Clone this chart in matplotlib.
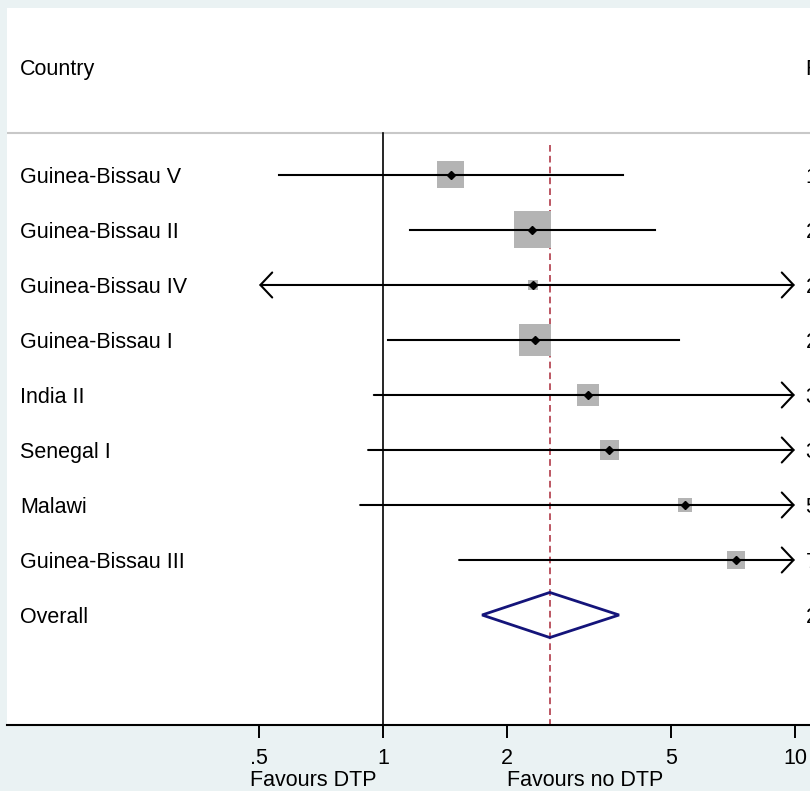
import numpy as np
from matplotlib import pyplot as plt
from matplotlib.patches import Polygon
import matplotlib.transforms as mtransforms

plt.rcParams['font.family'] = ['Liberation Sans', 'DejaVu Sans']

# study estimates (risk ratios)
studies = ["Guinea-Bissau V", "Guinea-Bissau II", "Guinea-Bissau IV", "Guinea-Bissau I",
           "India II", "Senegal I", "Malawi", "Guinea-Bissau III"]
es = [1.46, 2.30, 2.31, 2.34, 3.14, 3.54, 5.41, 7.19]
ci_lo = [0.56, 1.16, 0.21, 1.03, 0.95, 0.92, 0.88, 1.53]
ci_hi = [3.83, 4.57, 25.6, 5.23, 10.4, 13.6, 33.2, 33.9]
weights = [15.9, 29.8, 2.2, 22.3, 10.5, 7.9, 4.3, 7.1]

overall_label = "Overall"
overall_es = 2.54
overall_lo = 1.74
overall_hi = 3.74

xticks = [0.5, 1, 2, 5, 10]
xticklabels = [".5", "1", "2", "5", "10"]
favours = ["Favours DTP", "Favours no DTP"]

bg = '#EAF2F3'
fs = 15.5
xmin_clip, xmax_clip = 0.5, 10
toff = 0.04  # small downward nudge so text sits on the row like Stata does

fig = plt.figure(figsize=(8.1, 7.91), dpi=100, facecolor=bg)
ax = fig.add_axes([7/810, 66/791, 803/810, 717/791])
ax.set_facecolor('white')
ax.set_xscale('log')
ax.set_xlim(10**(-376/412), 10**(427/412))
ax.set_ylim(10.0, -3.036)

for s in ['top', 'right', 'left']:
    ax.spines[s].set_visible(False)
ax.spines['bottom'].set_linewidth(1.5)
ax.set_yticks([])
ax.xaxis.set_minor_locator(plt.NullLocator())
ax.set_xticks(xticks)
ax.set_xticklabels(xticklabels)
ax.tick_params(axis='x', length=9.4, width=1.4, pad=7.5, labelsize=fs)

rows = np.arange(len(studies))
ytrans = mtransforms.blended_transform_factory(ax.transAxes, ax.transData)
xtrans = mtransforms.blended_transform_factory(ax.transData, ax.transAxes)

# header
ax.text(0.0162, -1.964 + toff, "Country", transform=ytrans, va='center', fontsize=fs)
ax.text(0.995, -1.964 + toff, "RR (95% CI)", transform=ytrans, va='center', fontsize=fs, clip_on=False)
ax.axhline(-0.764, color='#C8C8C8', lw=1.5)

# null line and overall line
ax.plot([1, 1], [-0.764, 10], color='black', lw=1.2, clip_on=False)
ax.plot([overall_es, overall_es], [-0.545, 10], color='#B03A48', lw=1.2, ls=(0, (4, 2.5)))

# weight boxes
side_px = 37 * np.sqrt(np.array(weights) / max(weights))
ax.scatter(es, rows, s=(side_px * 0.72)**2, marker='s', color='#B4B4B4', linewidths=0, zorder=2)

# confidence intervals
for i in rows:
    lo, hi = ci_lo[i], ci_hi[i]
    if lo >= xmin_clip and hi <= xmax_clip:
        ax.plot([lo, hi], [i, i], color='black', lw=1.5, zorder=3)
    else:
        style = '-'
        if lo < xmin_clip:
            style = '<' + style
        if hi > xmax_clip:
            style = style + '>'
        ax.annotate('', xy=(min(hi, xmax_clip), i), xytext=(max(lo, xmin_clip), i),
                    arrowprops=dict(arrowstyle=style + ',head_length=0.85,head_width=0.9',
                                    lw=1.5, color='black', shrinkA=0, shrinkB=0), zorder=3)
    ax.text(0.0162, i + toff, studies[i], transform=ytrans, va='center', fontsize=fs)
    ax.text(0.995, i + toff, f"{es[i]:.2f} ({lo:.2f}, {hi:.2f})", transform=ytrans,
            va='center', fontsize=fs, clip_on=False)

ax.plot(es, rows, 'D', color='black', ms=4.5, zorder=4)

# overall diamond
yo = len(studies)
h = 0.41
ax.add_patch(Polygon([(overall_lo, yo), (overall_es, yo - h), (overall_hi, yo), (overall_es, yo + h)],
                     closed=True, fill=False, ec='#14147A', lw=2, zorder=4))
ax.text(0.0162, yo + toff, overall_label, transform=ytrans, va='center', fontsize=fs)
ax.text(0.995, yo + toff, f"{overall_es:.2f} ({overall_lo:.2f}, {overall_hi:.2f})", transform=ytrans,
        va='center', fontsize=fs, clip_on=False)

# favours labels
ax.text(10**(-69.5/412), -0.077, favours[0], transform=xtrans, ha='center', va='center', fontsize=fs)
ax.text(10**(202/412), -0.077, favours[1], transform=xtrans, ha='center', va='center', fontsize=fs)

fig.savefig("out.png", dpi=100, facecolor=bg)
